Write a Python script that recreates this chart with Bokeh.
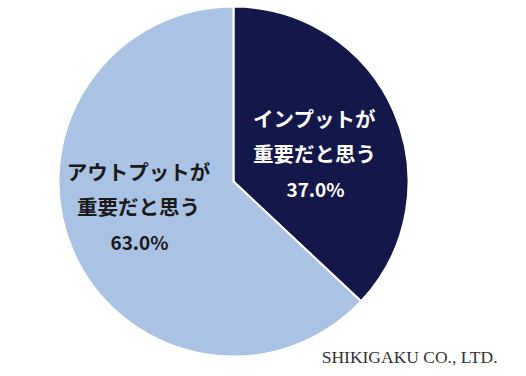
import math
from bokeh.plotting import figure
from bokeh.models import ColumnDataSource, Range1d
from bokeh.core.properties import value
from bokeh.embed import file_html
from bokeh.resources import INLINE

# Survey answer shares (percent)
categories = ["インプットが\n重要だと思う", "アウトプットが\n重要だと思う"]
shares = [37.0, 63.0]
colors = ["#13174a", "#aac3e4"]

W, H = 526, 376
cx, cy, r = 233, H - 181, 175

# cumulative angles, clockwise from 12 o'clock
starts, ends = [], []
acc = 0.0
for s in shares:
    a0 = math.pi / 2 - acc / 100 * 2 * math.pi
    acc += s
    a1 = math.pi / 2 - acc / 100 * 2 * math.pi
    starts.append(a0)
    ends.append(a1)

src = ColumnDataSource(dict(start=starts, end=ends, color=colors))

p = figure(width=W, height=H, x_range=Range1d(0, W), y_range=Range1d(0, H),
           output_backend="svg", toolbar_location=None, min_border=0)
p.axis.visible = False
p.grid.visible = False
p.outline_line_color = None
p.background_fill_color = "white"
p.border_fill_color = "white"

p.wedge(x=cx, y=cy, radius=r, start_angle="start", end_angle="end",
        direction="clock", fill_color="color", line_color="white",
        line_width=2, source=src)

# label positions (centre of each text block) and text colours
label_xy = [(314, H - 152), (138, H - 205)]
label_colors = ["white", "#1a1a1a"]
line_gap = 35
for cat, s, (lx, ly), tc in zip(categories, shares, label_xy, label_colors):
    lines = cat.split("\n")
    ys = [ly + line_gap - i * line_gap for i in range(len(lines))]
    p.text(x=[lx] * len(lines), y=ys, text=lines, text_align="center",
           text_baseline="middle", text_color=tc,
           text_font=value("Noto Sans CJK JP"), text_font_style="bold",
           text_font_size="20.5px")
    p.text(x=[lx + 1], y=[ly - line_gap - 1], text=[f"{s:.1f}%"],
           text_align="center", text_baseline="middle", text_color=tc,
           text_font=value("Noto Sans CJK JP"), text_font_style="bold",
           text_font_size="19px")

p.text(x=[497], y=[H - 356], text=["SHIKIGAKU CO., LTD."], text_align="right",
       text_baseline="middle", text_color="#333333",
       text_font=value("Liberation Serif"), text_font_size="17.5px")

open("out.html", "w").write(file_html(p, INLINE))
